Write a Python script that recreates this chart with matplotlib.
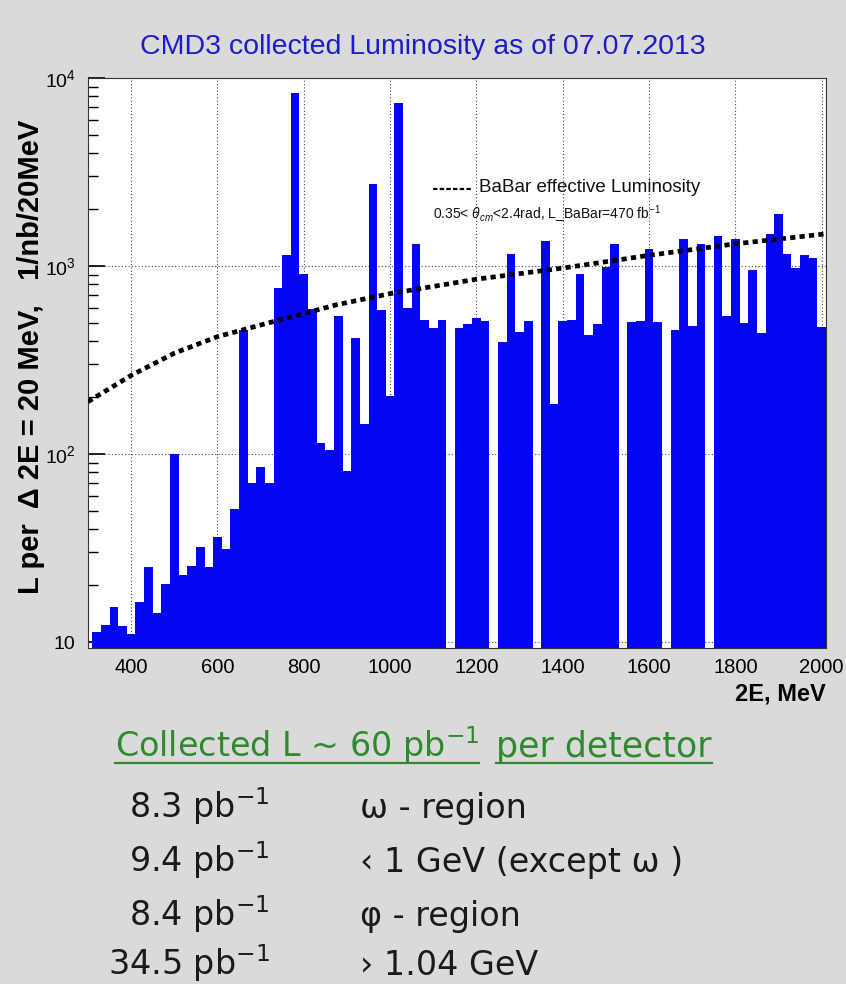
import numpy as np
import matplotlib.pyplot as plt
from matplotlib.lines import Line2D

plt.rcParams['mathtext.fontset'] = 'custom'
plt.rcParams['mathtext.rm'] = 'Liberation Sans'
plt.rcParams['mathtext.it'] = 'Liberation Sans:italic'

SANS = 'Liberation Sans'

# CMD3 luminosity per 20 MeV bin (1/nb), bins centred on 2E
energy = np.arange(320, 2001, 20)
lumi = [11.3, 12.3, 15.4, 12.2, 11.1, 16.3, 25, 14.2, 20.4, 100,
        22.6, 25.5, 31.9, 25, 36.4, 31.3, 51, 457, 70.5, 85,
        70.5, 766, 1150, 8320, 911, 594, 115, 105, 543, 81,
        416, 145, 2725, 587, 203, 7380, 601, 1312, 516, 470,
        516, 0, 470, 490, 526, 510, 0, 396, 1153, 444,
        510, 0, 1355, 185, 510, 516, 911, 431, 490, 989,
        1312, 0, 503, 510, 1233, 506, 0, 457, 1394, 482,
        1312, 0, 1452, 543, 1394, 495, 948, 438, 1483, 1893,
        1153, 975, 1140, 1101, 475]

# BaBar effective luminosity curve
babar_e = [300, 400, 500, 600, 722, 877, 1000, 1200, 1400, 1600, 1800, 2010]
babar_l = [190, 262, 344, 421, 501, 623, 713, 851, 975, 1140, 1312, 1483]

xticks = [400, 600, 800, 1000, 1200, 1400, 1600, 1800, 2000]
yticks = [10, 100, 1000, 10000]
ylabels = ['10', r'$\mathdefault{10^{2}}$', r'$\mathdefault{10^{3}}$', r'$\mathdefault{10^{4}}$']

summary_lumi = [r'8.3 pb$^{\mathdefault{-1}}$', r'9.4 pb$^{\mathdefault{-1}}$',
                r'8.4 pb$^{\mathdefault{-1}}$', r'34.5 pb$^{\mathdefault{-1}}$']
summary_region = ['ω - region', '‹ 1 GeV (except ω )', 'φ - region', '› 1.04 GeV']

fig = plt.figure(figsize=(8.46, 9.84), dpi=100)
fig.patch.set_facecolor('#dadada')
ax = fig.add_axes([88/846, 1 - 648/984, 738/846, 570/984])
ax.set_facecolor('white')

h = np.array(lumi, dtype=float)
ax.bar(energy, h, width=20, color='#0505f5', linewidth=0, zorder=2)
ax.plot(babar_e, babar_l, color='black', lw=3.4, linestyle=(0, (1.1, 0.9)), zorder=3)

ax.set_yscale('log')
ax.set_xlim(300, 2010)
ax.set_ylim(9.3, 10000)
ax.set_xticks(xticks)
ax.set_xticklabels([str(t) for t in xticks])
ax.set_yticks(yticks)
ax.set_yticklabels(ylabels)
ax.set_axisbelow(True)
ax.grid(True, which='major', color='#444444', linestyle=(0, (1, 2)), linewidth=0.8, zorder=0)
ax.tick_params(axis='y', which='major', direction='in', length=12, width=1.2, pad=9, labelsize=14)
ax.tick_params(axis='y', which='minor', direction='in', length=7, width=1.0)
ax.tick_params(axis='x', which='both', direction='in', length=0, pad=7, labelsize=14.5)
for lab in ax.get_xticklabels() + ax.get_yticklabels():
    lab.set_fontfamily(SANS)
for s in ax.spines.values():
    s.set_linewidth(0.8)
    s.set_color('#333333')

ax.set_ylabel('L per  Δ 2E = 20 MeV,   1/nb/20MeV', fontsize=21, fontweight='bold',
              family=SANS)
ax.yaxis.set_label_coords(-0.058, 0.51)
fig.text(826/846, 1 - 694/984, '2E, MeV', ha='right', va='center', fontsize=17,
         fontweight='bold', family=SANS)

fig.text(423/846, 1 - 47/984, 'CMD3 collected Luminosity as of 07.07.2013', ha='center',
         va='center', fontsize=20.5, color='#1c1cc8', family=SANS)

# legend for the BaBar curve
fig.add_artist(Line2D([433/846, 473/846], [1 - 189/984, 1 - 189/984], color='black',
                      lw=1.6, linestyle=(0, (2, 1))))
fig.text(479/846, 1 - 188/984, 'BaBar effective Luminosity', ha='left', va='center',
         fontsize=13.5, family=SANS, color='#111111')
fig.text(433/846, 1 - 214/984,
         r'0.35< $\theta_{cm}$<2.4rad, L_BaBar=470 fb$^{-1}$', ha='left', va='center',
         fontsize=10, family=SANS, color='#111111')

# summary text below the plot
fig.canvas.draw()
r = fig.canvas.get_renderer()
green = '#2f8a2f'
t1 = fig.text(115/846, 1 - 757/984, r'Collected L ~ 60 pb$^{\mathdefault{-1}}$', ha='left',
              va='baseline', fontsize=24, color=green, family='DejaVu Sans')
t2 = fig.text(496/846, 1 - 757/984, 'per detector', ha='left', va='baseline',
              fontsize=25, color=green, family='DejaVu Sans')
for t in (t1, t2):
    bb = t.get_window_extent(renderer=r).transformed(fig.transFigure.inverted())
    fig.add_artist(Line2D([bb.x0, bb.x1], [1 - 763/984, 1 - 763/984], color=green, lw=1.6))

row_y = [818, 872, 926, 975]
for yy, a, b in zip(row_y, summary_lumi, summary_region):
    fig.text(270/846, 1 - yy/984, a, ha='right', va='baseline', fontsize=24,
             color='#1a1a1a', family='DejaVu Sans')
    fig.text(360/846, 1 - yy/984, b, ha='left', va='baseline', fontsize=24,
             color='#1a1a1a', family='DejaVu Sans')

fig.savefig('out.png', dpi=100, facecolor=fig.get_facecolor())
